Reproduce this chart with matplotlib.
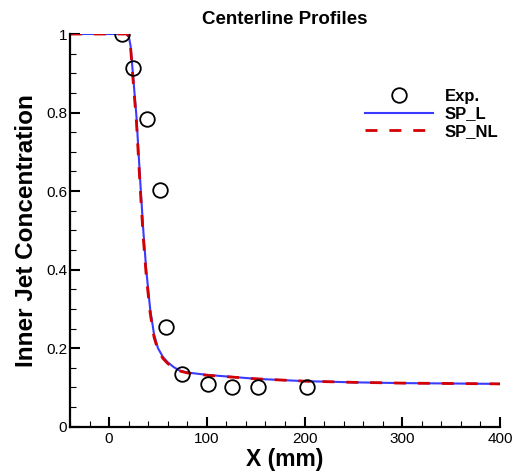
import matplotlib.pyplot as plt
from matplotlib.ticker import MultipleLocator

plt.rcParams['font.family'] = ['Liberation Sans', 'DejaVu Sans']

# experimental data
x_exp = [13, 24, 39, 52, 58, 75, 101, 126, 152, 203]
y_exp = [1.0, 0.914, 0.783, 0.603, 0.253, 0.133, 0.110, 0.101, 0.102, 0.102]

# SP_L (linear)
x_spl = [-40, 18, 20, 22, 24, 28, 32, 35, 38, 42, 46, 50, 55, 60, 66, 72, 80, 100,
         150, 200, 250, 300, 350, 400]
y_spl = [1.0, 1.0, 0.995, 0.97, 0.91, 0.79, 0.62, 0.5, 0.4, 0.3, 0.235, 0.2, 0.178,
         0.164, 0.152, 0.143, 0.138, 0.132, 0.122, 0.116, 0.113, 0.111, 0.110, 0.109]

# SP_NL (non-linear)
x_spnl = [-40, 18, 20, 22, 24, 28, 32, 35, 38, 42, 46, 50, 55, 60, 66, 72, 80, 100,
          150, 200, 250, 300, 350, 400]
y_spnl = [1.0, 1.0, 0.994, 0.965, 0.9, 0.775, 0.6, 0.48, 0.385, 0.29, 0.228, 0.195,
          0.174, 0.161, 0.15, 0.142, 0.137, 0.131, 0.122, 0.116, 0.113, 0.111, 0.110, 0.109]

fig = plt.figure(figsize=(5.14, 4.72), dpi=100)
ax = fig.add_axes([70 / 514, 1 - 426.7 / 472, 430 / 514, 392.7 / 472])

ax.plot(x_exp, y_exp, linestyle='none', marker='o', markersize=10.5,
        markerfacecolor='none', markeredgecolor='black', markeredgewidth=1.3,
        label='Exp.', zorder=3)
ax.plot(x_spl, y_spl, color='#3a3aff', linewidth=1.5, label='SP_L')
ax.plot(x_spnl, y_spnl, color='#d40000', linewidth=2, linestyle=(0, (4.3, 4.3)),
        label='SP_NL')

ax.set_xlim(-40, 400)
ax.set_ylim(0, 1)
ax.xaxis.set_major_locator(MultipleLocator(100))
ax.xaxis.set_minor_locator(MultipleLocator(20))
ax.yaxis.set_major_locator(MultipleLocator(0.2))
ax.yaxis.set_minor_locator(MultipleLocator(0.05))
ax.set_yticks([0, 0.2, 0.4, 0.6, 0.8, 1])
ax.set_yticklabels(['0', '0.2', '0.4', '0.6', '0.8', '1'])

for s in ['top', 'right']:
    ax.spines[s].set_visible(False)
for s in ['left', 'bottom']:
    ax.spines[s].set_linewidth(1.6)
ax.tick_params(which='major', direction='in', length=7, width=1.5, labelsize=11)
ax.tick_params(axis='y', which='major', pad=2)
ax.tick_params(which='minor', direction='in', length=4, width=0.8)

ax.set_title('Centerline Profiles', fontsize=13.5, fontweight='bold', pad=7)
ax.set_xlabel('X (mm)', fontsize=16.5, fontweight='bold', labelpad=2)
ax.set_ylabel('Inner Jet Concentration', fontsize=17.5, fontweight='bold', labelpad=6)

leg = ax.legend(loc='upper left', bbox_to_anchor=(0.65, 0.898), frameon=False,
                handlelength=4.1, handletextpad=0.7, labelspacing=0.15,
                prop={'weight': 'bold', 'size': 12})

fig.savefig('out.png', dpi=100)
